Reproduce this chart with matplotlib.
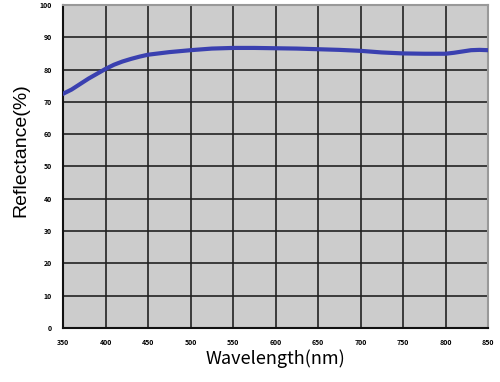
import matplotlib
matplotlib.use('Agg')
from matplotlib import pyplot as plt

wavelength = [350, 360, 370, 380, 390, 400, 410, 420, 430, 440, 450, 475, 500, 525,
              550, 575, 600, 625, 650, 675, 700, 725, 750, 775, 800, 810, 820, 830, 840, 850]
reflectance = [72.5, 73.8, 75.5, 77.2, 78.7, 80.2, 81.5, 82.5, 83.3, 84.0, 84.6, 85.4, 86.0, 86.5,
               86.7, 86.7, 86.6, 86.5, 86.3, 86.1, 85.8, 85.3, 85.0, 84.9, 84.9, 85.2, 85.6, 86.0, 86.1, 86.0]
x_ticks = list(range(350, 851, 50))
y_ticks = list(range(0, 101, 10))

plt.rcParams['font.family'] = ['Noto Sans CJK JP', 'DejaVu Sans']

fig = plt.figure(figsize=(5, 3.82), dpi=100)
ax = fig.add_axes([0.126, 0.1414, 0.85, 0.8456])
ax.set_facecolor('#cccccc')
ax.plot(wavelength, reflectance, color='#3a40b0', linewidth=3, zorder=3)
ax.set_xlim(350, 850)
ax.set_ylim(0, 100)
ax.set_xticks(x_ticks)
ax.set_yticks(y_ticks)
ax.tick_params(length=0, labelsize=5, pad=8)
for lbl in ax.get_xticklabels() + ax.get_yticklabels():
    lbl.set_fontweight('bold')
ax.grid(True, color='#222222', linewidth=1.2)
ax.set_axisbelow(True)
for s in ['left', 'bottom']:
    ax.spines[s].set_color('#111111')
    ax.spines[s].set_linewidth(1.5)
for s in ['top', 'right']:
    ax.spines[s].set_color('#999999')
    ax.spines[s].set_linewidth(1.5)
ax.set_xlabel('Wavelength(nm)', fontsize=13, labelpad=2)
ax.set_ylabel('Reflectance(%)', fontsize=14, family='Liberation Sans')
ax.yaxis.set_label_coords(-0.08, 0.551)
fig.savefig('out.png')
